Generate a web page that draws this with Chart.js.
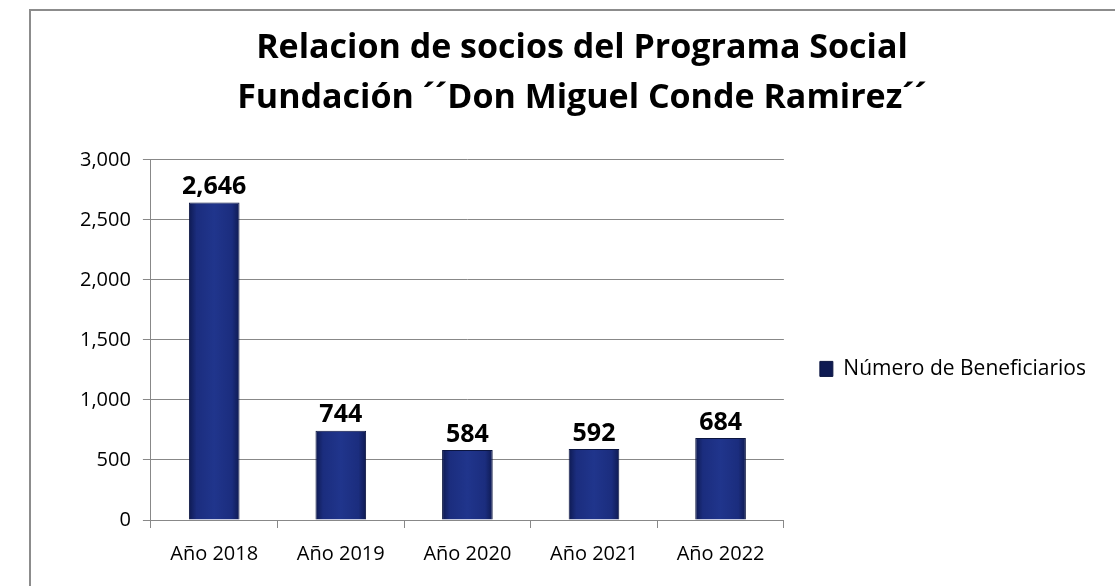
<!DOCTYPE html>
<html>
<head>
<meta charset="utf-8">
<script src="https://cdn.jsdelivr.net/npm/chart.js@4"></script>
<style>
  html, body { margin: 0; padding: 0; background: #fff; }
  #wrap {
    position: absolute; left: 29px; top: 9px;
    width: 1090px; height: 582px;
    border-left: 2px solid #8c8c8c; border-top: 2px solid #8c8c8c;
  }
  #box { position: absolute; left: 0; top: 0; width: 1084px; height: 577px; }
</style>
</head>
<body>
<div id="wrap"><div id="box"><canvas id="socios"></canvas></div></div>
<script>
const years = ["Año 2018", "Año 2019", "Año 2020", "Año 2021", "Año 2022"]
const beneficiarios = [2646, 744, 584, 592, 684]
const yTicks = [0, 500, 1000, 1500, 2000, 2500, 3000]

const fontFam = '"Open Sans", "Liberation Sans", sans-serif'

// numbers on top of the bars
const barLabels = {
    id: 'barLabels',
    afterDatasetsDraw(chart) {
        const ctx = chart.ctx
        const meta = chart.getDatasetMeta(0)
        ctx.save()
        ctx.font = 'bold 25px ' + fontFam
        ctx.fillStyle = '#000'
        ctx.textAlign = 'center'
        ctx.textBaseline = 'bottom'
        meta.data.forEach((bar, i) => {
            ctx.fillText(beneficiarios[i].toLocaleString('en-US'), bar.x, bar.y - 3)
        })
        ctx.restore()
    }
}

function barFill(context) {
    const chart = context.chart
    if (!chart.chartArea) return '#1c2d7c'
    const meta = chart.getDatasetMeta(0)
    const bar = meta.data[context.dataIndex]
    if (!bar || !bar.width) return '#1c2d7c'
    const g = chart.ctx.createLinearGradient(bar.x - bar.width / 2, 0, bar.x + bar.width / 2, 0)
    g.addColorStop(0, '#0e1a52')
    g.addColorStop(0.15, '#1b2d7e')
    g.addColorStop(0.5, '#20358c')
    g.addColorStop(0.85, '#1b2d7e')
    g.addColorStop(1, '#0e1a52')
    return g
}

const chart = new Chart(document.querySelector('#socios'), {
    type: 'bar',
    data: {
        labels: years,
        datasets: [
            {
                label: 'Número de Beneficiarios',
                data: beneficiarios,
                backgroundColor: barFill,
                borderColor: '#0b1540',
                borderWidth: 1,
                barPercentage: 0.8,
                categoryPercentage: 0.5,
            },
        ],
    },
    plugins: [barLabels],
    options: {
        responsive: true,
        maintainAspectRatio: false,
        animation: false,
        layout: { padding: { left: 37, right: 19, bottom: 8, top: 0 } },
        plugins: {
            title: {
                display: true,
                text: ['Relacion de socios del Programa Social', 'Fundación ´´Don Miguel Conde Ramirez´´'],
                color: '#000',
                font: { family: fontFam, size: 34, weight: 'bold', lineHeight: 1.47 },
                padding: { top: 12, bottom: 37 },
            },
            legend: {
                position: 'right',
                align: 'start',
                maxWidth: 400,
                title: { display: true, text: ' ', font: { size: 2 }, padding: { top: 80, bottom: 229 } },
                labels: {
                    color: '#000',
                    font: { family: fontFam, size: 21 },
                    boxWidth: 13,
                    boxHeight: 15,
                    padding: 36,
                },
            },
            tooltip: { enabled: false },
        },
        scales: {
            x: {
                grid: { drawOnChartArea: false, offset: true, tickLength: 8, color: '#888' },
                border: { color: '#888' },
                ticks: { color: '#000', font: { family: fontFam, size: 20 }, padding: 14 },
            },
            y: {
                min: 0,
                max: 3000,
                afterBuildTicks: (axis) => { axis.ticks = yTicks.map(v => ({ value: v })) },
                grid: { color: '#888', tickLength: 8 },
                border: { color: '#888' },
                ticks: {
                    color: '#000',
                    font: { family: fontFam, size: 20 },
                    padding: 12,
                    callback: (v) => v.toLocaleString('en-US'),
                },
            },
        },
    },
})

// re-measure once the installed fonts are ready
document.fonts.ready.then(() => chart.update())
</script>
</body>
</html>
